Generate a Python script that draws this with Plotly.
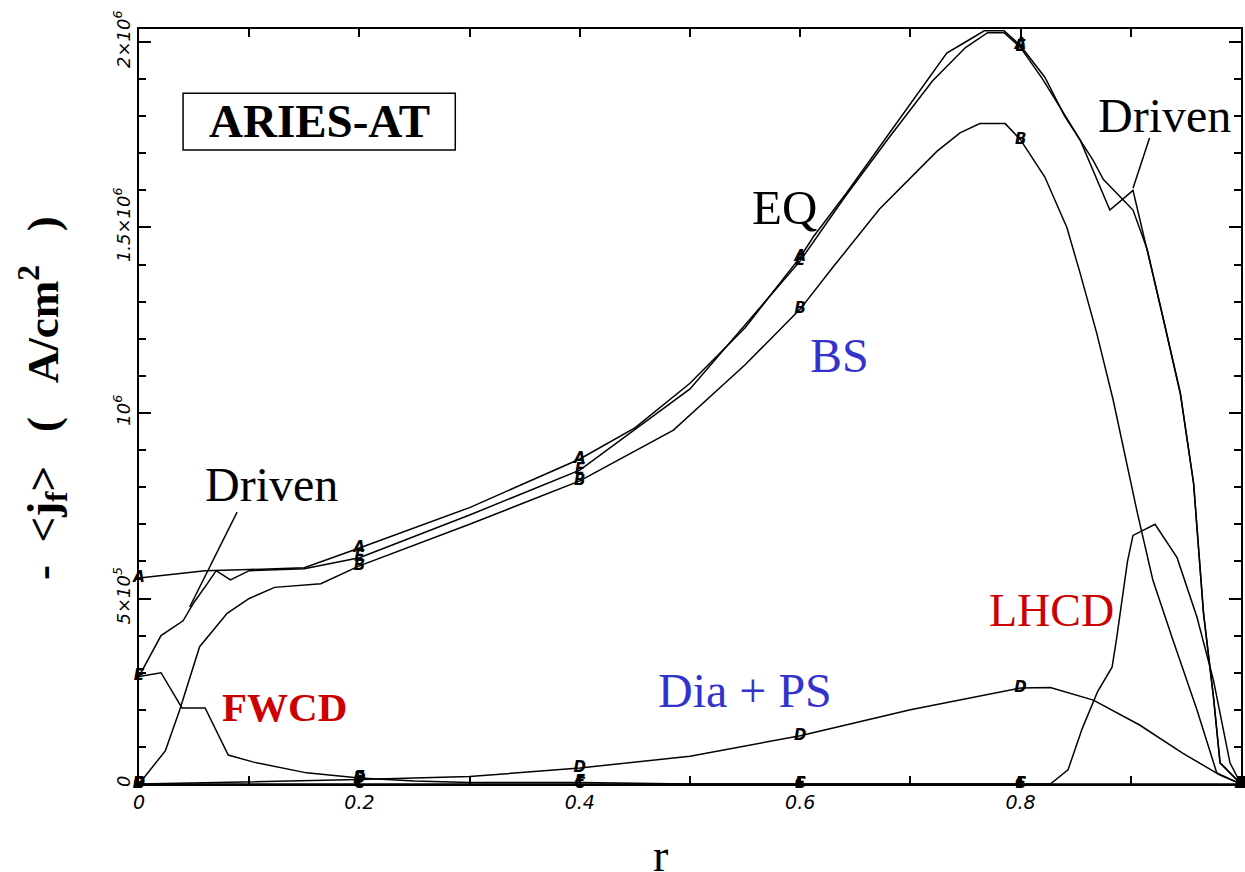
import plotly.graph_objects as go

# ---------------- data (current density in units of 10^6 A/cm^2) ----------------
eq_r = [0, 0.03, 0.06, 0.1, 0.15, 0.2, 0.3, 0.4, 0.45, 0.5, 0.55, 0.6, 0.612, 0.642, 0.672, 0.703,
        0.733, 0.75, 0.767, 0.785, 0.8, 0.822, 0.84, 0.866, 0.875, 0.902, 0.915, 0.929, 0.945,
        0.957, 0.966, 0.975, 0.981, 1.0]
eq_j = [0.555, 0.565, 0.575, 0.578, 0.583, 0.636, 0.745, 0.876, 0.96, 1.08, 1.23, 1.42, 1.475, 1.593,
        1.717, 1.844, 1.97, 2.0, 2.03, 2.03, 1.99, 1.905, 1.80, 1.68, 1.63, 1.547, 1.44, 1.26, 1.054,
        0.81, 0.46, 0.235, 0.057, 0.0]

drv_r = [0, 0.02, 0.04, 0.05, 0.062, 0.07, 0.083, 0.1, 0.15, 0.2, 0.3, 0.4, 0.5, 0.6, 0.64, 0.68,
         0.72, 0.75, 0.77, 0.785, 0.8, 0.82, 0.854, 0.881, 0.902, 0.915, 0.929, 0.945, 0.957,
         0.966, 0.975, 0.981, 1.0]
drv_j = [0.29, 0.40, 0.44, 0.49, 0.54, 0.575, 0.55, 0.575, 0.58, 0.61, 0.725, 0.846, 1.065, 1.41,
         1.58, 1.74, 1.895, 1.985, 2.025, 2.025, 1.985, 1.90, 1.736, 1.547, 1.60, 1.44, 1.26, 1.05,
         0.81, 0.46, 0.235, 0.057, 0.0]

bs_r = [0, 0.024, 0.037, 0.055, 0.08, 0.1, 0.123, 0.165, 0.2, 0.3, 0.4, 0.485, 0.55, 0.6, 0.63,
        0.672, 0.724, 0.745, 0.763, 0.786, 0.8, 0.822, 0.842, 0.854, 0.869, 0.884, 0.906, 0.92,
        0.938, 0.96, 0.978, 1.0]
bs_j = [0, 0.09, 0.2, 0.37, 0.46, 0.50, 0.53, 0.54, 0.588, 0.70, 0.817, 0.954, 1.13, 1.28, 1.394,
        1.55, 1.705, 1.755, 1.78, 1.78, 1.736, 1.636, 1.50, 1.377, 1.216, 1.035, 0.73, 0.55, 0.39,
        0.2, 0.03, 0.0]

dia_r = [0, 0.05, 0.1, 0.2, 0.3, 0.4, 0.5, 0.6, 0.7, 0.8, 0.827, 0.866, 0.908, 0.947, 0.981, 1.0]
dia_j = [0, 0.003, 0.006, 0.012, 0.02, 0.043, 0.075, 0.13, 0.2, 0.259, 0.26, 0.226, 0.159, 0.083,
         0.024, 0]

fw_r = [0, 0.02, 0.039, 0.06, 0.081, 0.104, 0.152, 0.2, 0.25, 0.3, 0.4, 0.45, 0.5, 0.6, 0.8, 1.0]
fw_j = [0.29, 0.30, 0.205, 0.205, 0.078, 0.059, 0.03, 0.016, 0.008, 0.004, 0.004, 0.002, 0, 0, 0, 0]

lh_r = [0, 0.2, 0.4, 0.6, 0.8, 0.827, 0.843, 0.856, 0.870, 0.883, 0.887, 0.892, 0.897, 0.902,
        0.922, 0.942, 0.96, 0.975, 0.99, 1.0]
lh_j = [0, 0, 0, 0, 0, 0, 0.038, 0.15, 0.25, 0.315, 0.39, 0.50, 0.60, 0.67, 0.70, 0.61, 0.45, 0.28,
        0.057, 0]

marker_r = [0, 0.2, 0.4, 0.6, 0.8, 1.0]
series = [
    ("EQ", eq_r, eq_j, "A"),
    ("Driven", drv_r, drv_j, "E"),
    ("BS", bs_r, bs_j, "B"),
    ("Dia + PS", dia_r, dia_j, "D"),
    ("FWCD", fw_r, fw_j, "F"),
    ("LHCD", lh_r, lh_j, "C"),
]

x_tickvals = [0, 0.2, 0.4, 0.6, 0.8, 1.0]
x_ticktext = ["0", "0.2", "0.4", "0.6", "0.8", "1"]
y_tickvals = [0, 0.5, 1.0, 1.5, 2.0]
y_ticktext = ["0", "5×10<sup>5</sup>", "10<sup>6</sup>", "1.5×10<sup>6</sup>", "2×10<sup>6</sup>"]

SERIF = "Liberation Serif"
RED = "#cc0000"
BLUE = "#3333cc"
NB = "\u00a0"

fig = go.Figure()
for name, r, j, letter in series:
    fig.add_trace(go.Scatter(
        x=r, y=j, mode="lines", name=name,
        line=dict(color="black", width=1.5), showlegend=False,
    ))
    mx = [v for v in r if any(abs(v - m) < 1e-9 for m in marker_r)]
    my = [j[i] for i, v in enumerate(r) if any(abs(v - m) < 1e-9 for m in marker_r)]
    fig.add_trace(go.Scatter(
        x=mx, y=my, mode="text", text=[letter] * len(mx), name=name + " marks",
        textposition="middle center",
        textfont=dict(family="DejaVu Sans", size=15, color="black", style="italic", weight="bold"),
        showlegend=False, cliponaxis=False,
    ))

# label pointer lines
fig.add_trace(go.Scatter(x=[0.089, 0.046], y=[0.733, 0.477], mode="lines",
                         line=dict(color="black", width=1.5), showlegend=False))
fig.add_trace(go.Scatter(x=[0.917, 0.902], y=[1.741, 1.606], mode="lines",
                         line=dict(color="black", width=1.5), showlegend=False))

fig.add_shape(type="rect", xref="x", yref="y", x0=0.04, x1=0.287, y0=1.709, y1=1.862,
              line=dict(color="black", width=1.5), fillcolor="white")

def ann(text, x, y, size, color="black"):
    fig.add_annotation(x=x, y=y, xref="x", yref="y", text=text, showarrow=False,
                       font=dict(family=SERIF, size=size, color=color),
                       xanchor="center", yanchor="middle")

ann("<b>ARIES-AT</b>", 0.164, 1.787, 47)
ann("Driven", 0.12, 0.806, 48)
ann("Driven", 0.931, 1.803, 48)
ann("EQ", 0.586, 1.555, 49)
ann("BS", 0.636, 1.156, 48, BLUE)
ann("LHCD", 0.828, 0.469, 46, RED)
ann("Dia + PS", 0.55, 0.253, 48, BLUE)
ann("<b>FWCD</b>", 0.132, 0.207, 41, RED)

# axis titles
fig.add_annotation(xref="paper", yref="paper", x=(660 - 139) / 1102, y=-(855 - 784) / 755,
                   text="r", showarrow=False, xanchor="center", yanchor="middle",
                   font=dict(family=SERIF, size=46, color="black"))
ytitle = ("<b>-" + NB * 2 + "&lt;j<sub>f</sub>&gt;" + NB * 3 + "(" + NB * 3 + "A/cm<sup>2</sup>"
          + NB * 3 + ")</b>")
fig.add_annotation(xref="paper", yref="paper", x=(42 - 139) / 1102, y=(784 - 398) / 755,
                   text=ytitle, showarrow=False, textangle=-90, xanchor="center", yanchor="middle",
                   font=dict(family=SERIF, size=45, color="black"))

fig.update_layout(
    width=1245, height=872,
    margin=dict(l=139, r=4, t=29, b=88),
    plot_bgcolor="white", paper_bgcolor="white",
    xaxis=dict(
        range=[0, 1], showgrid=False, zeroline=False, automargin=False,
        showline=True, linecolor="black", linewidth=2, mirror="ticks",
        ticks="inside", ticklen=8, tickwidth=1.5, tickcolor="black",
        tickvals=x_tickvals, ticktext=x_ticktext,
        tickfont=dict(family="DejaVu Sans", size=19, style="italic", color="black"),
        minor=dict(ticks="inside", dtick=0.1, ticklen=8, tickwidth=1.5, tickcolor="black"),
    ),
    yaxis=dict(
        range=[0, 2.035], showgrid=False, zeroline=False, automargin=False,
        showline=True, linecolor="black", linewidth=2, mirror="ticks",
        ticks="inside", ticklen=12, tickwidth=1.5, tickcolor="black",
        tickvals=y_tickvals, ticktext=y_ticktext, tickangle=-90,
        tickfont=dict(family="DejaVu Sans", size=18, style="italic", color="black"),
        minor=dict(ticks="inside", dtick=0.1, ticklen=7, tickwidth=1.5, tickcolor="black"),
    ),
)

fig.write_html("out.html", config={"displayModeBar": False},
               post_script="document.body.style.margin='0';document.body.style.overflow='hidden';")
